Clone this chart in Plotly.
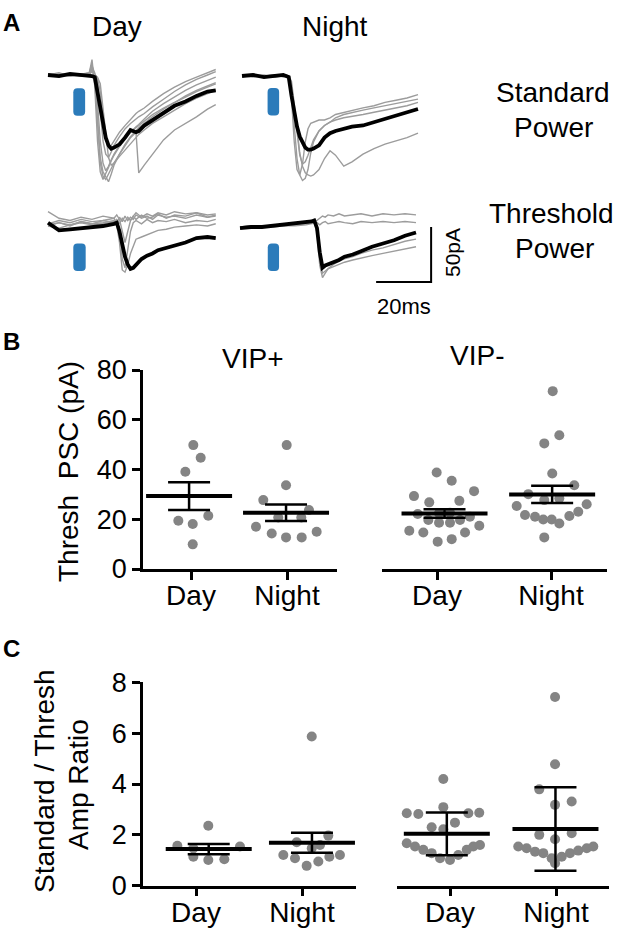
import plotly.graph_objects as go

W, H = 625, 932
FONT = "Liberation Sans, Arial, sans-serif"

# ===================== DATA =====================
# ---- Panel A: example PSC traces (time in ms, current in pA) ----
t_std_day = [0, 4, 8, 12, 15, 16, 17, 18, 19, 20, 21, 22, 23, 24, 26, 28, 30, 32, 33, 35, 38, 42, 46, 50, 54, 58, 61]
std_day_avg = [0, -1, 1, 0, 0, -1, -2, -17, -32, -47, -57, -64, -67, -66, -63, -57, -50, -52, -51, -46, -41, -35, -28, -24, -19, -15, -14]
std_day_cells = [
    [0, 2, -1, 1, 2, 14, -10, -60, -88, -95, -90, -84, -78, -73, -65, -58, -52, -47, -45, -40, -33, -26, -20, -14, -9, -5, -2],
    [0, -1, 1, 0, 1, 8, 2, -25, -60, -80, -87, -83, -77, -72, -64, -58, -52, -48, -46, -42, -36, -30, -25, -19, -14, -10, -7],
    [1, 0, -1, 1, 0, 5, 1, -5, -30, -60, -72, -75, -70, -64, -56, -49, -44, -40, -38, -35, -29, -22, -15, -9, -4, 0, 3],
    [-1, 1, 0, -1, 1, 3, 0, -3, -15, -40, -58, -66, -64, -60, -52, -46, -40, -35, -33, -30, -24, -17, -11, -6, -2, 2, 5],
    [0, 1, -1, 0, 2, 10, -5, -45, -80, -92, -95, -90, -85, -80, -72, -64, -57, -52, -89, -82, -72, -59, -50, -44, -38, -31, -27],
    [1, -1, 0, 1, 0, 4, 0, -2, -8, -30, -55, -75, -82, -80, -74, -68, -62, -56, -54, -50, -44, -38, -32, -26, -21, -17, -14],
    [0, 0, 1, -1, 1, 6, -2, -35, -75, -88, -92, -97, -90, -82, -72, -63, -56, -51, -48, -44, -38, -31, -25, -20, -15, -11, -8],
]

t_std_night = [0, 4, 8, 12, 15, 16, 17, 18, 19, 20, 21, 22, 23, 24, 25, 26, 28, 30, 32, 34, 37, 40, 44, 48, 52, 56, 60, 64]
std_night_avg = [0, 1, -1, 0, 1, 0, -1, -18, -33, -46, -55, -61, -65, -67, -67, -66, -63, -56, -52, -50, -48, -46, -45, -42, -39, -36, -33, -30]
std_night_cells = [
    [0, 0, 1, -1, 0, 1, 0, -20, -60, -85, -90, -80, -60, -48, -43, -42, -40, -40, -38, -35, -33, -31, -29, -27, -24, -22, -20, -17],
    [1, 0, 0, 1, -1, 0, -2, -15, -45, -75, -90, -95, -93, -85, -70, -60, -50, -45, -42, -38, -35, -33, -31, -29, -27, -25, -23, -21],
    [0, -1, 0, 1, 0, 1, 0, -5, -25, -50, -70, -82, -88, -90, -91, -90, -85, -75, -68, -72, -82, -78, -71, -66, -62, -59, -56, -52],
    [0, 1, 0, -1, 1, 0, -1, -8, -30, -55, -72, -80, -78, -72, -65, -58, -50, -45, -42, -40, -38, -37, -35, -33, -31, -29, -27, -24],
]

t_thr_day = [0, 4, 8, 12, 16, 20, 24, 25, 26, 27, 28, 29, 30, 31, 32, 34, 36, 38, 40, 43, 46, 50, 54, 58, 61]
thr_day_avg = [3, -4, -3, -2, -1, 0, 2, 3, -5, -18, -28, -35, -39, -38, -35, -30, -27, -25, -22, -20, -18, -15, -11, -10, -11]
thr_day_cells = [
    [2, 5, 3, 6, 4, 5, 7, 3, 8, 4, 9, 5, 8, 6, 10, 7, 9, 6, 10, 8, 9, 7, 10, 8, 9],
    [0, -2, 1, 3, 1, 2, 4, 2, -3, -30, -38, -20, -5, 3, 5, 2, 6, 3, 5, 4, 6, 3, 5, 4, 6],
    [13, 7, 5, 8, 6, 9, 7, 10, 6, -5, -15, -5, 5, 9, 12, 8, 11, 9, 12, 10, 13, 11, 12, 10, 11],
    [1, 3, 0, 4, 2, 3, 5, 1, -15, -40, -42, -35, -25, -18, -12, -10, -8, -6, -4, -3, -1, 0, 1, 0, 2],
    [0, 3, 1, 4, 2, 5, 3, 6, 2, 7, 4, 8, 5, 9, 6, 10, 7, 8, 11, 7, 10, 9, 12, 8, 10],
]

t_thr_night = [0, 4, 8, 12, 16, 20, 24, 26, 27, 28, 29, 30, 31, 32, 34, 36, 38, 41, 44, 48, 52, 56, 60, 64]
thr_night_avg = [-1, 0, 0, 1, 2, 3, 4, 5, 6, -1, -23, -37, -35, -34, -32, -30, -27, -25, -22, -18, -15, -12, -8, -5]
thr_night_cells = [
    [0, 1, 0, 2, 1, 2, 3, 4, 5, 6, 8, 10, 9, 11, 10, 12, 10, 11, 12, 10, 12, 11, 12, 11],
    [0, 0, 1, 0, 1, 1, 2, 3, 3, 4, 2, 4, 5, 3, 4, 5, 4, 3, 5, 4, 5, 4, 5, 4],
    [0, 1, 0, 1, 2, 2, 3, 4, 5, -5, -35, -46, -42, -38, -34, -31, -29, -27, -24, -21, -19, -16, -13, -11],
    [0, 0, 1, 1, 2, 3, 3, 4, 5, 0, -28, -42, -40, -38, -36, -34, -32, -30, -28, -26, -24, -22, -20, -18],
]

# light stimulus windows (ms) per example panel
stim_std_day = (9.2, 13.5)
stim_std_night = (9.3, 13.5)
stim_thr_day = (9.2, 13.7)
stim_thr_night = (10.1, 14.2)

scalebar_ms = 20
scalebar_pA = 50

# ---- Panel B: threshold PSC amplitude (pA) ----
group_labels = ["Day", "Night"]
psc_tick_vals = [0, 20, 40, 60, 80]

vip_pos_day_x = [0.024, 0.101, -0.059, -0.132, 0.018, 0.18, 0.018]
vip_pos_day_psc = [49.8, 44.7, 39.1, 19.4, 18.1, 21.4, 9.9]
vip_pos_night_x = [0.997, 0.99, 0.753, 1.229, 0.677, 0.841, 0.99, 1.153, 1.309, 0.909, 1.149]
vip_pos_night_psc = [49.8, 33.7, 27.7, 23.7, 17, 14.3, 12.7, 12.7, 15, 20.7, 20.7]
vip_neg_day_x = [-0.003, 0.129, 0.325, -0.202, 0.196, -0.068, -0.169, 0.289, 0.018, 0.114,
                 0.018, 0.114, 0.202, -0.076, -0.243, -0.12, 0.371, 0.246, 0.006, 0.129]
vip_neg_day_psc = [38.8, 35.5, 31.3, 29.3, 27.4, 26.8, 22.1, 21, 22.4, 22.6,
                   18.6, 18.6, 19.7, 19.7, 15.4, 14.7, 17.4, 14.7, 11, 12]
vip_neg_night_x = [1.015, 1.073, 0.941, 1.011, 1.204, 0.801, 0.941, 1.073, 0.699, 1.313,
                   0.772, 0.86, 0.932, 1.006, 1.073, 1.161, 1.239, 0.941]
vip_neg_night_psc = [71.5, 53.8, 50.5, 38.4, 33.7, 30.1, 27.7, 28.4, 25.3, 26,
                     21.7, 21, 19.9, 19.9, 18.3, 21.3, 23, 12.7]

psc_pos_center = [-0.02, 0.99]
psc_pos_mean = [29.3, 22.6]
psc_pos_err = [5.6, 3.3]
psc_neg_center = [0.066, 1.01]
psc_neg_mean = [22.3, 30.0]
psc_neg_err = [1.7, 3.5]

# ---- Panel C: standard / threshold amplitude ratio ----
ratio_tick_vals = [0, 2, 4, 6, 8]
ratio_pos_day_x = [0.116, -0.176, 0.415, -0.025, 0.116, 0.267, -0.025]
ratio_pos_day = [2.36, 1.57, 1.54, 1.14, 1.01, 1.04, 1.47]
ratio_pos_night_x = [1.092, 0.95, 1.248, 0.824, 0.934, 1.044, 1.154, 1.258, 1.358, 1.092, 1.17]
ratio_pos_night = [5.87, 1.71, 1.97, 1.21, 1.08, 0.78, 0.95, 1.14, 1.21, 1.47, 1.6]
ratio_neg_day_x = [-0.063, -0.408, -0.299, -0.063, 0.173, 0.276, 0.047, -0.173, -0.063, -0.408,
                   -0.33, -0.252, -0.173, -0.094, 0, 0.078, 0.158, 0.22, 0.283]
ratio_neg_day = [4.2, 2.85, 2.82, 3.09, 2.85, 2.87, 2.48, 2.3, 2.22, 1.67,
                 1.54, 1.41, 1.28, 1.08, 1.01, 1.21, 1.41, 1.54, 1.6]
ratio_neg_night_x = [0.991, 0.991, 0.842, 1.148, 0.991, 0.842, 1.148, 0.991, 0.644, 0.723,
                     0.802, 0.88, 0.959, 0.991, 1.054, 1.132, 1.21, 1.29, 1.352]
ratio_neg_night = [7.42, 4.78, 3.79, 3.31, 3.18, 2.0, 2.06, 1.83, 1.54, 1.47,
                   1.34, 1.28, 1.08, 0.88, 1.14, 1.28, 1.38, 1.47, 1.54]

ratio_pos_center = [0.12, 1.094]
ratio_pos_mean = [1.44, 1.69]
ratio_pos_err = [0.2, 0.39]
ratio_neg_center = [-0.03, 0.995]
ratio_neg_mean = [2.04, 2.23]
ratio_neg_err = [0.84, 1.64]

# ===================== STYLE / LAYOUT =====================
BLACK = "#000000"
TRACE_GRAY = "#9c9c9c"
PT_GRAY = "#848484"
BLUE = "#2b7bba"
PX_PER_MS = 2.75
PX_PER_PA = 1.1

fig = go.Figure()
layout = dict(template="none", width=W, height=H, margin=dict(l=0, r=0, t=0, b=0, pad=0), autosize=False,
              paper_bgcolor="white", plot_bgcolor="rgba(0,0,0,0)",
              font=dict(family=FONT, color=BLACK),
              showlegend=False, shapes=[], annotations=[])


def xdom(p0, p1):
    return [p0 / W, p1 / W]


def ydom(p0, p1):
    return [1 - p1 / H, 1 - p0 / H]


# ---- Panel A ----
a_panels = [
    ("", (40, 225), 48, (55, 190), 75, t_std_day, std_day_avg, std_day_cells, stim_std_day, (-12, -37)),
    ("2", (235, 425), 242, (55, 190), 76, t_std_night, std_night_avg, std_night_cells, stim_std_night, (-11, -36)),
    ("3", (40, 225), 48, (190, 300), 226, t_thr_day, thr_day_avg, thr_day_cells, stim_thr_day, (-16, -41)),
    ("4", (235, 440), 240, (190, 300), 227, t_thr_night, thr_night_avg, thr_night_cells, stim_thr_night, (-15, -40)),
]
for aid, xd, t0px, yd, base, tt, avg, cells, stim, stim_pa in a_panels:
    xa = "x" + aid
    ya = "y" + aid
    layout["xaxis" + aid] = dict(domain=xdom(*xd), range=[(xd[0] - t0px) / PX_PER_MS, (xd[1] - t0px) / PX_PER_MS],
                                 visible=False, anchor=ya, fixedrange=True, automargin=False)
    layout["yaxis" + aid] = dict(domain=ydom(*yd), range=[(base - yd[1]) / PX_PER_PA, (base - yd[0]) / PX_PER_PA],
                                 visible=False, anchor=xa, fixedrange=True, automargin=False)
    for c in cells:
        fig.add_trace(go.Scatter(x=tt, y=c, mode="lines", line=dict(color=TRACE_GRAY, width=1.4),
                                 xaxis=xa, yaxis=ya, hoverinfo="skip"))
    fig.add_trace(go.Scatter(x=tt, y=avg, mode="lines", line=dict(color=BLACK, width=3.8),
                             xaxis=xa, yaxis=ya, hoverinfo="skip"))
    s0, s1 = stim
    top, bot = stim_pa
    rx, ry = 4 / PX_PER_MS, 4 / PX_PER_PA
    path = (f"M {s0+rx},{top} L {s1-rx},{top} Q {s1},{top} {s1},{top-ry} L {s1},{bot+ry} "
            f"Q {s1},{bot} {s1-rx},{bot} L {s0+rx},{bot} Q {s0},{bot} {s0},{bot+ry} "
            f"L {s0},{top-ry} Q {s0},{top} {s0+rx},{top} Z")
    layout["shapes"].append(dict(type="path", path=path, xref=xa, yref=ya,
                                 fillcolor=BLUE, line=dict(width=0)))

# scale bar in the night-threshold axes
sb_t1 = 69.5
sb_t0 = sb_t1 - scalebar_ms
sb_i0 = -scalebar_pA
fig.add_trace(go.Scatter(x=[sb_t0, sb_t1, sb_t1], y=[sb_i0, sb_i0, sb_i0 + scalebar_pA], mode="lines",
                         line=dict(color=BLACK, width=2), xaxis="x4", yaxis="y4", hoverinfo="skip"))

# ---- Panels B & C ----
axis_common = dict(showline=True, linecolor=BLACK, linewidth=2.5, ticks="outside", ticklen=8,
                   tickwidth=2.5, tickcolor=BLACK, showgrid=False, zeroline=False, fixedrange=True,
                   automargin=False, tickfont=dict(family=FONT, size=28, color=BLACK))

cat_axes = {
    "5": ((143, 337), 191, 287, "y5"),
    "6": ((382, 607), 437, 551, "y5"),
    "7": ((143, 356), 196, 302, "y7"),
    "8": ((397, 609), 450, 556, "y7"),
}
spacing = {}
for aid, (xd, pd, pn, ya) in cat_axes.items():
    sp = pn - pd
    spacing[aid] = sp
    layout["xaxis" + aid] = dict(axis_common, domain=xdom(*xd),
                                 range=[(xd[0] - pd) / sp, 1 + (xd[1] - pn) / sp],
                                 tickvals=[0, 1], ticktext=group_labels, anchor=ya,
                                 ticklabelstandoff=-8)

layout["yaxis5"] = dict(axis_common, domain=ydom(370, 569), range=[0, 80], tickvals=psc_tick_vals,
                        anchor="x5", tickfont=dict(family=FONT, size=27, color=BLACK))
layout["yaxis7"] = dict(axis_common, domain=ydom(682.3, 885.7), range=[0, 8], tickvals=ratio_tick_vals,
                        anchor="x7", tickfont=dict(family=FONT, size=27, color=BLACK))

groups = [
    ("5", "y5", [(vip_pos_day_x, vip_pos_day_psc), (vip_pos_night_x, vip_pos_night_psc)],
     psc_pos_center, psc_pos_mean, psc_pos_err),
    ("6", "y5", [(vip_neg_day_x, vip_neg_day_psc), (vip_neg_night_x, vip_neg_night_psc)],
     psc_neg_center, psc_neg_mean, psc_neg_err),
    ("7", "y7", [(ratio_pos_day_x, ratio_pos_day), (ratio_pos_night_x, ratio_pos_night)],
     ratio_pos_center, ratio_pos_mean, ratio_pos_err),
    ("8", "y7", [(ratio_neg_day_x, ratio_neg_day), (ratio_neg_night_x, ratio_neg_night)],
     ratio_neg_center, ratio_neg_mean, ratio_neg_err),
]
MEAN_HW_PX = 43
CAP_HW_PX = 21
for aid, ya, pts, centers, means, errs in groups:
    xa = "x" + aid
    for xs, ys in pts:
        fig.add_trace(go.Scatter(x=xs, y=ys, mode="markers", xaxis=xa, yaxis=ya, cliponaxis=False,
                                 marker=dict(size=10, color=PT_GRAY, line=dict(width=0)), hoverinfo="skip"))
    mhw = MEAN_HW_PX / spacing[aid]
    chw = CAP_HW_PX / spacing[aid]
    mx, my, ex, ey = [], [], [], []
    for c, m, e in zip(centers, means, errs):
        mx += [c - mhw, c + mhw, None]
        my += [m, m, None]
        ex += [c, c, None, c - chw, c + chw, None, c - chw, c + chw, None]
        ey += [m - e, m + e, None, m + e, m + e, None, m - e, m - e, None]
    fig.add_trace(go.Scatter(x=ex, y=ey, mode="lines", line=dict(color=BLACK, width=2.5),
                             xaxis=xa, yaxis=ya, hoverinfo="skip", cliponaxis=False))
    fig.add_trace(go.Scatter(x=mx, y=my, mode="lines", line=dict(color=BLACK, width=4),
                             xaxis=xa, yaxis=ya, hoverinfo="skip", cliponaxis=False))


def txt(s, x, y, size=28, angle=0):
    return dict(text=s, x=x / W, y=1 - y / H, xref="paper", yref="paper", showarrow=False,
                xanchor="center", yanchor="middle", textangle=angle,
                font=dict(family=FONT, size=size, color=BLACK))


layout["annotations"] += [
    txt("<b>A</b>", 12, 22, 24),
    txt("Day", 117, 27),
    txt("Night", 335, 27),
    txt("Standard", 553, 92),
    txt("Power", 553, 127),
    txt("Threshold", 551, 213),
    txt("Power", 554, 248),
    txt("50pA", 452, 252, 21, -90),
    txt("20ms", 404, 306, 22),
    txt("<b>B</b>", 11, 341, 24),
    txt("VIP+", 252, 359),
    txt("VIP-", 477, 356),
    txt("Thresh\u00a0 PSC (pA)", 68, 472, 28, -90),
    txt("<b>C</b>", 11, 648, 24),
    txt("Standard / Thresh", 44, 781, 28, -90),
    txt("Amp Ratio", 78, 785, 28, -90),
]

fig.update_layout(**layout)
fig.write_html("out.html", config={"displayModeBar": False},
               post_script="document.documentElement.style.margin='0';document.body.style.margin='0';"
                           "document.body.style.padding='0';document.documentElement.style.overflow='hidden';"
                           "document.body.style.overflow='hidden';")
